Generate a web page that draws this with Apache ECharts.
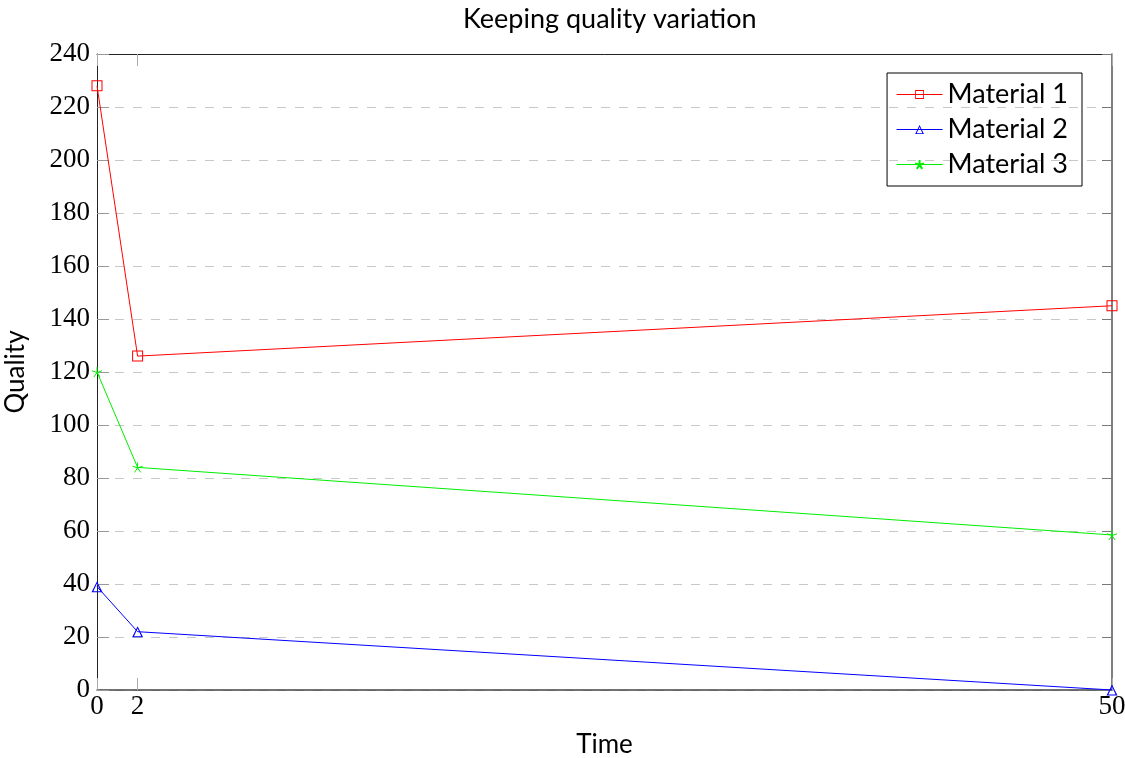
<!DOCTYPE html>
<html>
<head>
<meta charset="utf-8">
<script src="https://cdn.jsdelivr.net/npm/echarts@6/dist/echarts.min.js"></script>
<style>
  html, body { margin: 0; padding: 0; background: #fff; }
  #chart { width: 1125px; height: 758px; }
</style>
</head>
<body>
<div id="chart"></div>
<script>
// Time points and quality values per material
const times = [0, 2, 50];
const material1 = [228, 126, 145];
const material2 = [39, 22, 0];
const material3 = [120, 84, 58.5];
const seriesNames = ['Material 1', 'Material 2', 'Material 3'];

const pairs = vals => times.map((t, i) => [t, vals[i]]);

// thin hollow markers built as filled rings (outer contour + reversed inner contour)
const squarePath = 'path://M0,0H11V11H0Z M1,1V10H10V1Z';
const trianglePath = 'path://M0,11L5.5,0L11,11Z M1.9,10.1L9.1,10.1L5.5,2.3Z';
// five-armed asterisk marker
const starPath = 'path://M0,0L0,-1M0,0L0.951,-0.309M0,0L0.588,0.809M0,0L-0.588,0.809M0,0L-0.951,-0.309';

const serifFont = '"Liberation Serif", "DejaVu Serif", serif';
const sansFont = 'Lato, "Open Sans", sans-serif';

const chart = echarts.init(document.getElementById('chart'), null, { renderer: 'canvas' });

function lineSeries(name, vals, color, symbol, size, stroke) {
  return {
    name: name,
    type: 'line',
    data: pairs(vals),
    symbol: symbol,
    symbolSize: size,
    showAllSymbol: true,
    lineStyle: { color: color, width: 1 },
    itemStyle: { color: color, borderColor: color, borderWidth: stroke },
    emphasis: { disabled: true },
    animation: false
  };
}

chart.setOption({
  animation: false,
  title: {
    text: 'Keeping quality variation',
    left: 458,
    top: 1,
    textStyle: { fontFamily: sansFont, fontSize: 27, fontWeight: 'normal', color: '#000' }
  },
  grid: { left: 97, right: 13, top: 54, bottom: 68, outerBoundsMode: 'none', containLabel: false },
  legend: {
    right: 43,
    top: 73,
    orient: 'vertical',
    borderColor: '#000',
    borderWidth: 1,
    borderRadius: 0,
    padding: [8, 14, 8, 9],
    itemGap: 8,
    itemWidth: 46,
    itemHeight: 11,
    lineStyle: { width: 1 },
    textStyle: { fontFamily: sansFont, fontSize: 27, color: '#000' },
    data: seriesNames
  },
  xAxis: [{
    type: 'value',
    min: 0,
    max: 50,
    name: 'Time',
    nameLocation: 'middle',
    nameGap: 42,
    nameTextStyle: { fontFamily: sansFont, fontSize: 26, color: '#000' },
    axisLine: { onZero: false, lineStyle: { color: '#444', width: 1.5 } },
    axisTick: { show: true, inside: true, length: 12, customValues: times, lineStyle: { color: '#aaa' } },
    axisLabel: { customValues: times, fontFamily: serifFont, fontSize: 27, color: '#000', margin: 3 },
    splitLine: { show: false }
  }, {
    type: 'value',
    min: 0,
    max: 50,
    position: 'top',
    axisLine: { show: true, onZero: false, lineStyle: { color: '#222', width: 1 } },
    axisTick: { show: true, inside: true, length: 12, customValues: times, lineStyle: { color: '#aaa' } },
    axisLabel: { show: false },
    splitLine: { show: false }
  }],
  yAxis: [{
    type: 'value',
    min: 0,
    max: 240,
    interval: 20,
    name: 'Quality',
    nameLocation: 'middle',
    nameGap: 68,
    nameRotate: 90,
    nameTextStyle: { fontFamily: sansFont, fontSize: 26, color: '#000' },
    axisLine: { show: true, onZero: false, lineStyle: { color: '#222', width: 1 } },
    axisTick: { show: true, inside: true, length: 12, lineStyle: { color: '#999' } },
    axisLabel: { fontFamily: serifFont, fontSize: 27, color: '#000', margin: 7 },
    splitLine: { show: true, lineStyle: { color: '#c8c8c8', type: [9, 9], width: 1 } }
  }, {
    type: 'value',
    min: 0,
    max: 240,
    interval: 20,
    position: 'right',
    axisLine: { show: true, onZero: false, lineStyle: { color: '#555', width: 1.5 } },
    axisTick: { show: true, inside: true, length: 10, lineStyle: { color: '#777' } },
    axisLabel: { show: false },
    splitLine: { show: false }
  }],
  series: [
    lineSeries('Material 1', material1, '#ff0000', squarePath, 11, 0),
    lineSeries('Material 2', material2, '#0000ff', trianglePath, 11, 0),
    lineSeries('Material 3', material3, '#00ee00', starPath, 10, 1)
  ]
});
</script>
</body>
</html>
